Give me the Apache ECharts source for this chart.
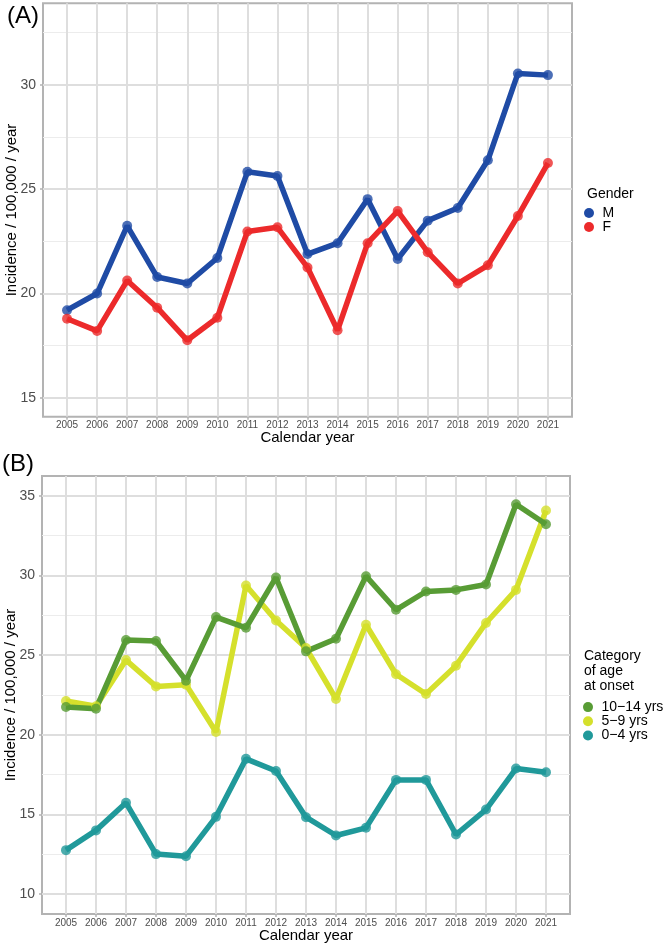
<!DOCTYPE html>
<html>
<head>
<meta charset="utf-8">
<script src="https://cdn.jsdelivr.net/npm/echarts@6/dist/echarts.min.js"></script>
<style>
  html, body { margin: 0; padding: 0; background: #ffffff; }
  #chart { width: 669px; height: 947px; }
</style>
</head>
<body>
<div id="chart"></div>
<script>
// ---- Data ----
const years = [2005, 2006, 2007, 2008, 2009, 2010, 2011, 2012, 2013, 2014, 2015, 2016, 2017, 2018, 2019, 2020, 2021];

// Panel A: incidence by gender
const genderNames = ['M', 'F'];
const maleIncidence   = [19.2, 20.0, 23.24, 20.79, 20.48, 21.7, 25.83, 25.63, 21.89, 22.41, 24.52, 21.65, 23.49, 24.1, 26.38, 30.54, 30.46];
const femaleIncidence = [18.79, 18.21, 20.62, 19.32, 17.76, 18.84, 22.97, 23.17, 21.25, 18.24, 22.41, 23.95, 21.98, 20.48, 21.35, 23.71, 26.25];

// Panel B: incidence by age category at onset
const ageNames = ['10\u221214 yrs', '5\u22129 yrs', '0\u22124 yrs'];
const age10to14 = [21.75, 21.64, 25.95, 25.89, 23.4, 27.39, 26.72, 29.88, 25.24, 26.03, 29.96, 27.85, 29.0, 29.1, 29.44, 34.48, 33.22];
const age5to9   = [22.12, 21.79, 24.69, 23.04, 23.15, 20.18, 29.38, 27.18, 25.45, 22.25, 26.91, 23.8, 22.56, 24.34, 27.02, 29.1, 34.08];
const age0to4   = [12.76, 14.0, 15.73, 12.51, 12.38, 14.85, 18.49, 17.73, 14.83, 13.68, 14.16, 17.17, 17.17, 13.74, 15.31, 17.88, 17.65];

// Axis ticks
const yTicksA = [15, 20, 25, 30];
const yMinorA = [17.5, 22.5, 27.5, 32.5];
const yTicksB = [10, 15, 20, 25, 30, 35];
const yMinorB = [12.5, 17.5, 22.5, 27.5, 32.5];
const yRangeA = [14.1, 33.9];
const yRangeB = [8.75, 36.25];
const xRange = [2004.2, 2021.8];

// ---- Styles ----
const FONT = "'Liberation Sans', Arial, Helvetica, sans-serif";
const colorsA = ['#1f4ba5', '#ec2a2b'];
const colorsB = ['#589c35', '#d5e02c', '#20999a'];
const gridCol = '#dedede';
const borderCol = '#b3b3b3';

function pairs(vals) { return years.map((y, i) => [y, vals[i]]); }

function xAxisDef(gi) {
  return {
    type: 'value', gridIndex: gi, min: xRange[0], max: xRange[1],
    name: 'Calendar year', nameLocation: 'middle', nameGap: 14, nameMoveOverlap: false,
    nameTextStyle: { fontFamily: FONT, fontSize: 15, color: '#000' },
    axisLine: { show: false },
    axisTick: { show: true, length: 3, customValues: years, lineStyle: { color: borderCol, width: 1.5 } },
    axisLabel: { customValues: years, formatter: v => String(v), fontFamily: FONT, fontSize: 10, color: '#4d4d4d', margin: 4 },
    splitLine: { show: true, lineStyle: { color: gridCol, width: 2 } }
  };
}
function yAxisMain(gi, range, ticks) {
  return {
    type: 'value', gridIndex: gi, min: range[0], max: range[1], position: 'left',
    name: 'Incidence / 100,000 / year', nameLocation: 'middle', nameGap: 24, nameMoveOverlap: false,
    nameTextStyle: { fontFamily: FONT, fontSize: 15, color: '#000' },
    axisLine: { show: false },
    axisTick: { show: true, length: 3, customValues: ticks, lineStyle: { color: borderCol, width: 1.5 } },
    axisLabel: { customValues: ticks, fontFamily: FONT, fontSize: 14, color: '#4d4d4d', margin: 7 },
    splitLine: { show: true, lineStyle: { color: gridCol, width: 2 } }
  };
}
function yAxisMinor(gi, range, ticks) {
  return {
    type: 'value', gridIndex: gi, min: range[0], max: range[1], position: 'left',
    axisLine: { show: false },
    axisTick: { show: false, customValues: ticks },
    axisLabel: { show: false, customValues: ticks },
    splitLine: { show: true, lineStyle: { color: '#ececec', width: 1 } }
  };
}

function lineSeries(name, vals, color, xi, yi) {
  return [
    { type: 'line', name: name, xAxisIndex: xi, yAxisIndex: yi, data: pairs(vals),
      showSymbol: false, symbol: 'circle', z: 3,
      lineStyle: { color: color, width: 5.5 }, itemStyle: { color: color }, animation: false },
    { type: 'scatter', name: name, xAxisIndex: xi, yAxisIndex: yi, data: pairs(vals),
      symbol: 'circle', symbolSize: 10, z: 4, itemStyle: { color: color }, animation: false }
  ];
}

const series = [];
series.push(...lineSeries(genderNames[0], maleIncidence, colorsA[0], 0, 0));
series.push(...lineSeries(genderNames[1], femaleIncidence, colorsA[1], 0, 0));
series.push(...lineSeries(ageNames[2], age0to4, colorsB[2], 1, 2));
series.push(...lineSeries(ageNames[1], age5to9, colorsB[1], 1, 2));
series.push(...lineSeries(ageNames[0], age10to14, colorsB[0], 1, 2));
// keep lines under points: all lines come before scatters
series.sort((a, b) => (a.type === b.type ? 0 : (a.type === 'line' ? -1 : 1)));

const chart = echarts.init(document.getElementById('chart'), null, { renderer: 'canvas' });
chart.setOption({
  animation: false,
  backgroundColor: '#ffffff',
  textStyle: { fontFamily: FONT },
  title: [
    { text: '(A)', left: 7, top: 4, padding: 0, textStyle: { fontFamily: FONT, fontSize: 24, lineHeight: 24, fontWeight: 'normal', color: '#000' } },
    { text: '(B)', left: 2, top: 452, padding: 0, textStyle: { fontFamily: FONT, fontSize: 24, lineHeight: 24, fontWeight: 'normal', color: '#000' } },
    { text: 'Gender', left: 587, top: 186, padding: 0, textStyle: { fontFamily: FONT, fontSize: 14, lineHeight: 16, fontWeight: 'normal', color: '#000' } },
    { text: 'Category\nof age\nat onset', left: 584, top: 648, padding: 0, textStyle: { fontFamily: FONT, fontSize: 14, lineHeight: 15.4, fontWeight: 'normal', color: '#000' } }
  ],
  legend: [
    { data: genderNames, orient: 'vertical', left: 584, top: 206, padding: 0, itemGap: 0,
      icon: 'circle', itemWidth: 17, itemHeight: 10,
      textStyle: { fontFamily: FONT, fontSize: 14, lineHeight: 14, color: '#000' } },
    { data: ageNames, orient: 'vertical', left: 583, top: 700, padding: 0, itemGap: 0,
      icon: 'circle', itemWidth: 17, itemHeight: 10,
      textStyle: { fontFamily: FONT, fontSize: 14, lineHeight: 14.2, color: '#000' } }
  ],
  grid: [
    { left: 43, right: 97, top: 3.3, bottom: 530.3, show: true, borderColor: borderCol, borderWidth: 2, backgroundColor: 'transparent', outerBoundsMode: 'none', containLabel: false },
    { left: 42, right: 99, top: 476, bottom: 33, show: true, borderColor: borderCol, borderWidth: 2, backgroundColor: 'transparent', outerBoundsMode: 'none', containLabel: false }
  ],
  xAxis: [xAxisDef(0), xAxisDef(1)],
  yAxis: [
    yAxisMain(0, yRangeA, yTicksA), yAxisMinor(0, yRangeA, yMinorA),
    yAxisMain(1, yRangeB, yTicksB), yAxisMinor(1, yRangeB, yMinorB)
  ],
  series: series
});
</script>
</body>
</html>
